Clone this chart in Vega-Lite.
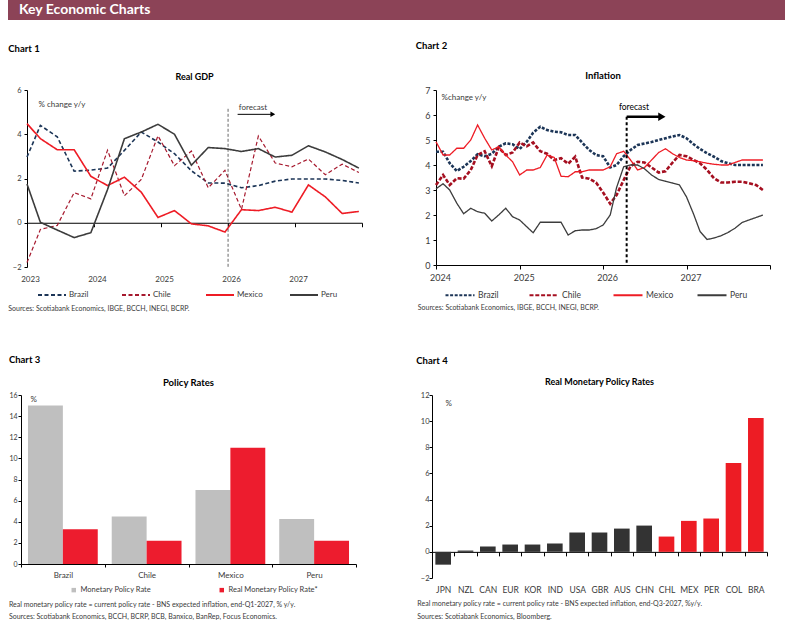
{
  "$schema": "https://vega.github.io/schema/vega-lite/v6.json",
  "background": "white",
  "padding": {"left": 8, "top": 0, "right": 0, "bottom": 0},
  "config": {
    "font": "Lato",
    "view": {"stroke": null},
    "axis": {"grid": false, "domainColor": "#000000", "tickColor": "#000000", "labelColor": "#3A3A3A", "labelFont": "Lato", "titleFont": "Lato", "titleFontWeight": "normal", "titleColor": "#3A3A3A"},
    "legend": {"labelFont": "Lato", "labelColor": "#3A3A3A"},
    "title": {"font": "Lato", "color": "#000000"}
  },
  "datasets": {
    "gdp": [
      {"date": "2023-01-01", "Brazil": 2.97, "Chile": -1.8, "Mexico": 4.48, "Peru": 1.75},
      {"date": "2023-03-15", "Brazil": 4.4, "Chile": -0.3, "Mexico": 3.8, "Peru": 0.02},
      {"date": "2023-06-15", "Brazil": 3.88, "Chile": -0.12, "Mexico": 3.3, "Peru": -0.33},
      {"date": "2023-09-15", "Brazil": 2.33, "Chile": 1.36, "Mexico": 3.3, "Peru": -0.67},
      {"date": "2023-12-15", "Brazil": 2.38, "Chile": 1.08, "Mexico": 2.1, "Peru": -0.45},
      {"date": "2024-03-15", "Brazil": 2.47, "Chile": 3.28, "Mexico": 1.68, "Peru": 1.5},
      {"date": "2024-06-15", "Brazil": 3.27, "Chile": 1.22, "Mexico": 2.06, "Peru": 3.8},
      {"date": "2024-09-15", "Brazil": 4.1, "Chile": 1.96, "Mexico": 1.38, "Peru": 4.1},
      {"date": "2024-12-15", "Brazil": 3.65, "Chile": 3.93, "Mexico": 0.24, "Peru": 4.45},
      {"date": "2025-03-15", "Brazil": 3.12, "Chile": 2.58, "Mexico": 0.55, "Peru": 4.0},
      {"date": "2025-06-15", "Brazil": 2.35, "Chile": 3.24, "Mexico": -0.05, "Peru": 2.6},
      {"date": "2025-09-15", "Brazil": 1.8, "Chile": 1.58, "Mexico": -0.14, "Peru": 3.4},
      {"date": "2025-12-15", "Brazil": 1.79, "Chile": 2.37, "Mexico": -0.42, "Peru": 3.35},
      {"date": "2026-03-15", "Brazil": 1.58, "Chile": 0.6, "Mexico": 0.59, "Peru": 3.22},
      {"date": "2026-06-15", "Brazil": 1.68, "Chile": 3.92, "Mexico": 0.55, "Peru": 3.35},
      {"date": "2026-09-15", "Brazil": 1.88, "Chile": 2.7, "Mexico": 0.7, "Peru": 2.97},
      {"date": "2026-12-15", "Brazil": 1.98, "Chile": 2.53, "Mexico": 0.48, "Peru": 3.05},
      {"date": "2027-03-15", "Brazil": 1.98, "Chile": 2.88, "Mexico": 1.71, "Peru": 3.48},
      {"date": "2027-06-15", "Brazil": 1.98, "Chile": 2.17, "Mexico": 1.17, "Peru": 3.2},
      {"date": "2027-09-15", "Brazil": 1.91, "Chile": 2.65, "Mexico": 0.42, "Peru": 2.86},
      {"date": "2027-12-15", "Brazil": 1.8, "Chile": 2.27, "Mexico": 0.51, "Peru": 2.47}
    ],
    "cpi": [
      {"date": "2024-01-01", "Brazil": 4.53, "Chile": 3.2, "Mexico": 4.93, "Peru": 3.05},
      {"date": "2024-02-01", "Brazil": 4.53, "Chile": 3.6, "Mexico": 4.4, "Peru": 3.25},
      {"date": "2024-03-01", "Brazil": 4.07, "Chile": 3.2, "Mexico": 4.4, "Peru": 3.0},
      {"date": "2024-04-01", "Brazil": 3.76, "Chile": 3.47, "Mexico": 4.67, "Peru": 2.47},
      {"date": "2024-05-01", "Brazil": 3.93, "Chile": 3.45, "Mexico": 4.67, "Peru": 2.05},
      {"date": "2024-06-01", "Brazil": 4.16, "Chile": 3.8, "Mexico": 5.0, "Peru": 2.27},
      {"date": "2024-07-01", "Brazil": 4.43, "Chile": 4.4, "Mexico": 5.6, "Peru": 2.13},
      {"date": "2024-08-01", "Brazil": 4.35, "Chile": 4.55, "Mexico": 5.07, "Peru": 2.07},
      {"date": "2024-09-01", "Brazil": 4.45, "Chile": 3.95, "Mexico": 4.6, "Peru": 1.76},
      {"date": "2024-10-01", "Brazil": 4.73, "Chile": 4.7, "Mexico": 4.73, "Peru": 2.0},
      {"date": "2024-11-01", "Brazil": 4.87, "Chile": 4.4, "Mexico": 4.4, "Peru": 2.27},
      {"date": "2024-12-01", "Brazil": 4.83, "Chile": 4.5, "Mexico": 4.13, "Peru": 1.93},
      {"date": "2025-01-01", "Brazil": 4.64, "Chile": 4.9, "Mexico": 3.6, "Peru": 1.8},
      {"date": "2025-02-01", "Brazil": 4.93, "Chile": 4.75, "Mexico": 3.8, "Peru": 1.53},
      {"date": "2025-03-01", "Brazil": 5.29, "Chile": 4.9, "Mexico": 3.8, "Peru": 1.29},
      {"date": "2025-04-01", "Brazil": 5.53, "Chile": 4.55, "Mexico": 3.9, "Peru": 1.71},
      {"date": "2025-05-01", "Brazil": 5.4, "Chile": 4.45, "Mexico": 4.4, "Peru": 1.71},
      {"date": "2025-06-01", "Brazil": 5.33, "Chile": 4.2, "Mexico": 4.3, "Peru": 1.71},
      {"date": "2025-07-01", "Brazil": 5.31, "Chile": 4.27, "Mexico": 3.55, "Peru": 1.71},
      {"date": "2025-08-01", "Brazil": 5.2, "Chile": 4.05, "Mexico": 3.53, "Peru": 1.2},
      {"date": "2025-09-01", "Brazil": 5.2, "Chile": 4.33, "Mexico": 3.73, "Peru": 1.37},
      {"date": "2025-10-01", "Brazil": 4.9, "Chile": 3.5, "Mexico": 3.73, "Peru": 1.4},
      {"date": "2025-11-01", "Brazil": 4.6, "Chile": 3.45, "Mexico": 3.8, "Peru": 1.4},
      {"date": "2025-12-01", "Brazil": 4.4, "Chile": 3.3, "Mexico": 3.8, "Peru": 1.45},
      {"date": "2026-01-01", "Brazil": 4.35, "Chile": 2.9, "Mexico": 3.8, "Peru": 1.6},
      {"date": "2026-02-01", "Brazil": 3.9, "Chile": 2.45, "Mexico": 3.93, "Peru": 2.0},
      {"date": "2026-03-01", "Brazil": 4.0, "Chile": 2.8, "Mexico": 4.45, "Peru": 3.1},
      {"date": "2026-04-01", "Brazil": 4.35, "Chile": 3.4, "Mexico": 4.55, "Peru": 3.93},
      {"date": "2026-05-01", "Brazil": 4.6, "Chile": 3.95, "Mexico": 4.2, "Peru": 4.0},
      {"date": "2026-06-01", "Brazil": 4.8, "Chile": 4.13, "Mexico": 3.8, "Peru": 4.0},
      {"date": "2026-07-01", "Brazil": 4.86, "Chile": 4.1, "Mexico": 3.9, "Peru": 3.85},
      {"date": "2026-08-01", "Brazil": 4.92, "Chile": 3.9, "Mexico": 4.2, "Peru": 3.6},
      {"date": "2026-09-01", "Brazil": 5.0, "Chile": 3.7, "Mexico": 4.5, "Peru": 3.42},
      {"date": "2026-10-01", "Brazil": 5.07, "Chile": 3.75, "Mexico": 4.65, "Peru": 3.35},
      {"date": "2026-11-01", "Brazil": 5.14, "Chile": 4.1, "Mexico": 4.45, "Peru": 3.28},
      {"date": "2026-12-01", "Brazil": 5.2, "Chile": 4.4, "Mexico": 4.3, "Peru": 3.2},
      {"date": "2027-01-01", "Brazil": 5.07, "Chile": 4.35, "Mexico": 4.2, "Peru": 2.72},
      {"date": "2027-02-01", "Brazil": 4.83, "Chile": 4.2, "Mexico": 4.17, "Peru": 2.03},
      {"date": "2027-03-01", "Brazil": 4.64, "Chile": 4.07, "Mexico": 4.13, "Peru": 1.34},
      {"date": "2027-04-01", "Brazil": 4.47, "Chile": 3.8, "Mexico": 4.07, "Peru": 1.02},
      {"date": "2027-05-01", "Brazil": 4.33, "Chile": 3.47, "Mexico": 4.03, "Peru": 1.08},
      {"date": "2027-06-01", "Brazil": 4.16, "Chile": 3.3, "Mexico": 4.0, "Peru": 1.17},
      {"date": "2027-07-01", "Brazil": 4.07, "Chile": 3.3, "Mexico": 4.0, "Peru": 1.3},
      {"date": "2027-08-01", "Brazil": 4.0, "Chile": 3.33, "Mexico": 4.1, "Peru": 1.47},
      {"date": "2027-09-01", "Brazil": 4.0, "Chile": 3.33, "Mexico": 4.2, "Peru": 1.7},
      {"date": "2027-10-01", "Brazil": 4.0, "Chile": 3.27, "Mexico": 4.2, "Peru": 1.8},
      {"date": "2027-11-01", "Brazil": 4.0, "Chile": 3.2, "Mexico": 4.2, "Peru": 1.9},
      {"date": "2027-12-01", "Brazil": 4.0, "Chile": 3.0, "Mexico": 4.2, "Peru": 2.0}
    ],
    "policy": [
      {"country": "Brazil", "rate": "Monetary Policy Rate", "value": 15.0},
      {"country": "Brazil", "rate": "Real Monetary Policy Rate*", "value": 3.3},
      {"country": "Chile", "rate": "Monetary Policy Rate", "value": 4.5},
      {"country": "Chile", "rate": "Real Monetary Policy Rate*", "value": 2.2},
      {"country": "Mexico", "rate": "Monetary Policy Rate", "value": 7.0},
      {"country": "Mexico", "rate": "Real Monetary Policy Rate*", "value": 11.0},
      {"country": "Peru", "rate": "Monetary Policy Rate", "value": 4.25},
      {"country": "Peru", "rate": "Real Monetary Policy Rate*", "value": 2.2}
    ],
    "real_rates": [
      {"country": "JPN", "region": "Other", "rate": -0.98},
      {"country": "NZL", "region": "Other", "rate": 0.1},
      {"country": "CAN", "region": "Other", "rate": 0.41},
      {"country": "EUR", "region": "Other", "rate": 0.56},
      {"country": "KOR", "region": "Other", "rate": 0.56},
      {"country": "IND", "region": "Other", "rate": 0.64},
      {"country": "USA", "region": "Other", "rate": 1.48},
      {"country": "GBR", "region": "Other", "rate": 1.48},
      {"country": "AUS", "region": "Other", "rate": 1.78},
      {"country": "CHN", "region": "Other", "rate": 2.01},
      {"country": "CHL", "region": "Latin America", "rate": 1.17},
      {"country": "MEX", "region": "Latin America", "rate": 2.37},
      {"country": "PER", "region": "Latin America", "rate": 2.55},
      {"country": "COL", "region": "Latin America", "rate": 6.8},
      {"country": "BRA", "region": "Latin America", "rate": 10.24}
    ]
  },
  "spacing": 21,
  "resolve": {"scale": {"color": "independent", "strokeDash": "independent"}},
  "vconcat": [
    {
      "width": 777,
      "height": 20,
      "view": {"fill": "#8C4357", "stroke": null},
      "data": {"values": [{}]},
      "mark": {"type": "point", "opacity": 0},
      "encoding": {},
      "title": {"text": "Key Economic Charts", "anchor": "start", "offset": -17, "dx": 11, "fontSize": 14, "fontWeight": "bold", "color": "#FFFFFF"}
    },
    {
      "spacing": 43,
      "resolve": {"scale": {"color": "independent", "strokeDash": "independent"}},
      "vconcat": [
        {
          "spacing": -1,
          "resolve": {"scale": {"color": "independent", "strokeDash": "independent"}},
          "hconcat": [
            {
              "width": 1, "height": 1,
              "view": {"fill": "#FFFFFF", "stroke": null},
              "data": {"values": [{}]},
              "mark": {"type": "point", "size": 0, "opacity": 0},
              "encoding": {}
            },
            {
              "spacing": 50,
              "resolve": {"scale": {"color": "independent", "strokeDash": "independent"}},
              "hconcat": [
                {
                  "title": {"text": "Chart 1", "anchor": "start", "fontSize": 9.5, "fontWeight": "bold", "offset": 20},
                  "vconcat": [
                    {
                      "title": {"text": "Sources: Scotiabank  Economics, IBGE, BCCH, INEGI, BCRP.", "orient": "bottom", "anchor": "start", "fontSize": 7, "fontWeight": "normal", "color": "#3A3A3A", "offset": 21, "dx": -4},
                      "vconcat": [
                        {
                          "title": {"text": "Real GDP", "fontSize": 9, "fontWeight": "bold", "offset": 4},
                          "width": 335,
                          "height": 177,
                          "layer": [
                            {
                              "data": {"name": "gdp"},
                              "transform": [{"fold": ["Brazil", "Chile", "Mexico", "Peru"], "as": ["country", "value"]}],
                              "mark": {"type": "line"},
                              "encoding": {
                                "x": {
                                  "field": "date", "type": "temporal",
                                  "scale": {"domain": [{"year": 2023, "month": 1, "date": 1}, {"year": 2028, "month": 1, "date": 1}]},
                                  "axis": {
                                    "title": null, "format": "%Y",
                                    "values": [{"year": 2023, "month": 1, "date": 1}, {"year": 2024, "month": 1, "date": 1}, {"year": 2025, "month": 1, "date": 1}, {"year": 2026, "month": 1, "date": 1}, {"year": 2027, "month": 1, "date": 1}, {"year": 2028, "month": 1, "date": 1}],
                                    "offset": -44.25, "tickSize": 4, "labelPadding": 48.75, "labelFontSize": 8, "labelOffset": 3,
                                    "labelFlush": false, "labelOverlap": false,
                                    "labelExpr": "year(datum.value) > 2027 ? '' : datum.label"
                                  }
                                },
                                "y": {
                                  "field": "value", "type": "quantitative",
                                  "scale": {"domain": [-2, 6], "nice": false},
                                  "axis": {
                                    "values": [-2, 0, 2, 4, 6], "tickSize": 3, "labelFontSize": 7.5, "labelPadding": 3, "labelOverlap": false,
                                    "title": "% change y/y", "titleAngle": 0, "titleAlign": "left", "titleBaseline": "alphabetic",
                                    "titleX": 11, "titleY": 16, "titleFontSize": 8
                                  }
                                },
                                "color": {
                                  "field": "country", "type": "nominal",
                                  "scale": {"domain": ["Brazil", "Chile", "Mexico", "Peru"], "range": ["#1C3557", "#A6192E", "#EE1C25", "#3C3C3C"]},
                                  "legend": {
                                    "title": null, "orient": "none", "legendX": 10, "legendY": 190, "direction": "horizontal",
                                    "columns": 4, "gridAlign": "all", "columnPadding": 23,
                                    "symbolType": "stroke", "symbolSize": 784, "symbolStrokeWidth": 2, "labelFontSize": 8, "labelOffset": 2
                                  }
                                },
                                "strokeDash": {
                                  "field": "country", "type": "nominal",
                                  "scale": {"domain": ["Brazil", "Chile", "Mexico", "Peru"], "range": [[4, 2.5], [4, 2.5], [1, 0], [1, 0]]}
                                },
                                "strokeWidth": {"condition": {"test": "datum.country === 'Chile'", "value": 1.2}, "value": 1.6}
                              }
                            },
                            {
                              "data": {"values": [{}]},
                              "mark": {"type": "rule", "color": "#404040", "strokeWidth": 0.8, "strokeDash": [3, 2]},
                              "encoding": {
                                "x": {"datum": {"year": 2026, "month": 1, "date": 1}, "type": "temporal"},
                                "y": {"datum": 5.15},
                                "y2": {"datum": -2}
                              }
                            },
                            {
                              "data": {"values": [{}]},
                              "mark": {"type": "rule", "color": "#000000", "strokeWidth": 1},
                              "encoding": {
                                "x": {"datum": {"year": 2026, "month": 2, "date": 22}, "type": "temporal"},
                                "x2": {"datum": {"year": 2026, "month": 9, "date": 2}},
                                "y": {"datum": 4.9}
                              }
                            },
                            {
                              "data": {"values": [{}]},
                              "mark": {"type": "point", "shape": "triangle-right", "filled": true, "color": "#000000", "opacity": 1, "size": 30},
                              "encoding": {
                                "x": {"datum": {"year": 2026, "month": 9, "date": 2}, "type": "temporal"},
                                "y": {"datum": 4.9}
                              }
                            },
                            {
                              "data": {"values": [{"label": "forecast"}]},
                              "mark": {"type": "text", "align": "left", "baseline": "alphabetic", "fontSize": 8, "color": "#3A3A3A"},
                              "encoding": {
                                "x": {"datum": {"year": 2026, "month": 2, "date": 28}, "type": "temporal"},
                                "y": {"datum": 5.1},
                                "text": {"field": "label"}
                              }
                            }
                          ]
                        }
                      ]
                    }
                  ]
                },
                {
                  "title": {"text": "Chart 2", "anchor": "start", "fontSize": 9.5, "fontWeight": "bold", "offset": 20, "dx": -2},
                  "vconcat": [
                    {
                      "title": {"text": "Sources: Scotiabank Economics, IBGE, BCCH, INEGI, BCRP.", "orient": "bottom", "anchor": "start", "fontSize": 7, "fontWeight": "normal", "color": "#3A3A3A", "offset": 21, "dx": -7},
                      "vconcat": [
                        {
                          "title": {"text": "Inflation", "fontSize": 9.5, "fontWeight": "bold", "offset": 6},
                          "width": 334,
                          "height": 175,
                          "layer": [
                            {
                              "data": {"name": "cpi"},
                              "transform": [{"fold": ["Brazil", "Chile", "Mexico", "Peru"], "as": ["country", "value"]}],
                              "mark": {"type": "line"},
                              "encoding": {
                                "x": {
                                  "field": "date", "type": "temporal",
                                  "scale": {"domain": [{"year": 2024, "month": 1, "date": 1}, {"year": 2028, "month": 1, "date": 1}]},
                                  "axis": {
                                    "title": null, "format": "%Y",
                                    "values": [{"year": 2024, "month": 1, "date": 1}, {"year": 2025, "month": 1, "date": 1}, {"year": 2026, "month": 1, "date": 1}, {"year": 2027, "month": 1, "date": 1}, {"year": 2028, "month": 1, "date": 1}],
                                    "tickSize": 4, "labelPadding": 4.5, "labelFontSize": 9, "labelOffset": 4,
                                    "labelFlush": false, "labelOverlap": false,
                                    "labelExpr": "year(datum.value) > 2027 ? '' : datum.label"
                                  }
                                },
                                "y": {
                                  "field": "value", "type": "quantitative",
                                  "scale": {"domain": [0, 7], "nice": false},
                                  "axis": {
                                    "tickCount": 7, "format": "d", "tickSize": 3, "labelFontSize": 9, "labelPadding": 3,
                                    "labelOverlap": false, "labelSeparation": 0, "labelFlush": false,
                                    "title": "%change y/y", "titleAngle": 0, "titleAlign": "left", "titleBaseline": "alphabetic",
                                    "titleX": 5, "titleY": 9, "titleFontSize": 8
                                  }
                                },
                                "color": {
                                  "field": "country", "type": "nominal",
                                  "scale": {"domain": ["Brazil", "Chile", "Mexico", "Peru"], "range": ["#1C3557", "#A50F20", "#EE1C25", "#3C3C3C"]},
                                  "legend": {
                                    "title": null, "orient": "none", "legendX": 8, "legendY": 189, "direction": "horizontal",
                                    "columns": 4, "gridAlign": "all", "columnPadding": 19,
                                    "symbolType": "stroke", "symbolSize": 841, "symbolStrokeWidth": 2.2, "labelFontSize": 8.5, "labelOffset": 2
                                  }
                                },
                                "strokeDash": {
                                  "field": "country", "type": "nominal",
                                  "scale": {"domain": ["Brazil", "Chile", "Mexico", "Peru"], "range": [[3, 1.6], [4, 1.8], [1, 0], [1, 0]]}
                                },
                                "strokeWidth": {"condition": {"test": "datum.country === 'Brazil' || datum.country === 'Chile'", "value": 2.6}, "value": 1.3}
                              }
                            },
                            {
                              "data": {"values": [{}]},
                              "mark": {"type": "rule", "color": "#000000", "strokeWidth": 2, "strokeDash": [3, 2.5]},
                              "encoding": {
                                "x": {"datum": {"year": 2026, "month": 4, "date": 14}, "type": "temporal"},
                                "y": {"datum": 5.93},
                                "y2": {"datum": 0}
                              }
                            },
                            {
                              "data": {"values": [{}]},
                              "mark": {"type": "rule", "color": "#000000", "strokeWidth": 2.5},
                              "encoding": {
                                "x": {"datum": {"year": 2026, "month": 4, "date": 14}, "type": "temporal"},
                                "x2": {"datum": {"year": 2026, "month": 9, "date": 15}},
                                "y": {"datum": 5.93}
                              }
                            },
                            {
                              "data": {"values": [{}]},
                              "mark": {"type": "point", "shape": "triangle-right", "filled": true, "color": "#000000", "opacity": 1, "size": 70},
                              "encoding": {
                                "x": {"datum": {"year": 2026, "month": 9, "date": 15}, "type": "temporal"},
                                "y": {"datum": 5.93}
                              }
                            },
                            {
                              "data": {"values": [{"label": "forecast"}]},
                              "mark": {"type": "text", "align": "center", "baseline": "alphabetic", "fontSize": 8.5, "color": "#000000"},
                              "encoding": {
                                "x": {"datum": {"year": 2026, "month": 5, "date": 16}, "type": "temporal"},
                                "y": {"datum": 6.2},
                                "text": {"field": "label"}
                              }
                            }
                          ]
                        }
                      ]
                    }
                  ]
                }
              ]
            }
          ]
        },
        {
          "spacing": -1,
          "resolve": {"scale": {"color": "independent", "strokeDash": "independent"}},
          "hconcat": [
            {
              "width": 1, "height": 1,
              "view": {"fill": "#FFFFFF", "stroke": null},
              "data": {"values": [{}]},
              "mark": {"type": "point", "size": 0, "opacity": 0},
              "encoding": {}
            },
            {
              "spacing": 59,
              "resolve": {"scale": {"color": "independent", "strokeDash": "independent"}},
              "hconcat": [
                {
                  "title": {"text": "Chart 3", "anchor": "start", "fontSize": 9.5, "fontWeight": "bold", "offset": 13},
                  "vconcat": [
                    {
                      "title": {"text": ["Real monetary  policy  rate  = current  policy  rate - BNS expected  inflation,  end-Q1-2027, % y/y.", "Sources:  Scotiabank  Economics,  BCCH, BCRP, BCB, Banxico,  BanRep,  Focus Economics."], "orient": "bottom", "anchor": "start", "fontSize": 7, "fontWeight": "normal", "color": "#3A3A3A", "offset": 22, "lineHeight": 12},
                      "vconcat": [
                        {
                          "title": {"text": "Policy Rates", "fontSize": 9.5, "fontWeight": "bold", "offset": 4},
                          "width": 335,
                          "height": 169,
                          "data": {"name": "policy"},
                          "mark": {"type": "bar"},
                          "encoding": {
                            "x": {
                              "field": "country", "type": "nominal", "sort": null,
                              "scale": {"paddingInner": 0, "paddingOuter": 0},
                              "axis": {"title": null, "labelAngle": 0, "tickBand": "extent", "tickSize": 3, "labelFontSize": 8, "labelPadding": 4}
                            },
                            "xOffset": {"field": "rate", "type": "nominal", "sort": null, "scale": {"paddingInner": 0, "paddingOuter": 0.2}},
                            "y": {
                              "field": "value", "type": "quantitative",
                              "scale": {"domain": [0, 16], "nice": false},
                              "axis": {
                                "values": [0, 2, 4, 6, 8, 10, 12, 14, 16], "tickSize": 3, "labelFontSize": 7, "labelPadding": 1, "labelOverlap": false,
                                "title": "%", "titleAngle": 0, "titleAlign": "left", "titleBaseline": "alphabetic",
                                "titleX": 9, "titleY": 6, "titleFontSize": 8
                              }
                            },
                            "color": {
                              "field": "rate", "type": "nominal", "sort": null,
                              "scale": {"domain": ["Monetary Policy Rate", "Real Monetary Policy Rate*"], "range": ["#BFBFBF", "#ED1C2E"]},
                              "legend": {
                                "title": null, "orient": "none", "legendX": 49, "legendY": 191, "direction": "horizontal",
                                "columns": 2, "columnPadding": 66, "symbolType": "square", "symbolSize": 20, "labelFontSize": 7.5, "labelOffset": 3
                              }
                            }
                          }
                        }
                      ]
                    }
                  ]
                },
                {
                  "title": {"text": "Chart 4", "anchor": "start", "fontSize": 9.5, "fontWeight": "bold", "offset": 13, "dx": -1},
                  "vconcat": [
                    {
                      "title": {"text": ["Real monetary policy rate = current policy rate - BNS expected inflation, end-Q3-2027, %y/y.", "Sources: Scotiabank Economics, Bloomberg."], "orient": "bottom", "anchor": "start", "fontSize": 7, "fontWeight": "normal", "color": "#3A3A3A", "offset": 6, "lineHeight": 12.5, "dx": -3},
                      "vconcat": [
                        {
                          "title": {"text": "Real Monetary Policy Rates", "fontSize": 9, "fontWeight": "bold", "offset": 4},
                          "width": 335,
                          "height": 183,
                          "data": {"name": "real_rates"},
                          "mark": {"type": "bar", "width": {"band": 0.7}},
                          "encoding": {
                            "x": {
                              "field": "country", "type": "nominal", "sort": null,
                              "scale": {"paddingInner": 0, "paddingOuter": 0},
                              "axis": {"title": null, "labelAngle": 0, "offset": -26.14, "tickBand": "extent", "tickSize": 4, "labelFontSize": 8.5, "labelPadding": 30}
                            },
                            "y": {
                              "field": "rate", "type": "quantitative",
                              "scale": {"domain": [-2, 12], "nice": false},
                              "axis": {
                                "values": [-2, 0, 2, 4, 6, 8, 10, 12], "tickSize": 3, "labelFontSize": 7.5, "labelPadding": 0, "labelOverlap": false,
                                "title": "%", "titleAngle": 0, "titleAlign": "left", "titleBaseline": "alphabetic",
                                "titleX": 13, "titleY": 10, "titleFontSize": 8
                              }
                            },
                            "color": {
                              "field": "region", "type": "nominal",
                              "scale": {"domain": ["Other", "Latin America"], "range": ["#333333", "#ED1C24"]},
                              "legend": null
                            }
                          }
                        }
                      ]
                    }
                  ]
                }
              ]
            }
          ]
        }
      ]
    }
  ]
}
